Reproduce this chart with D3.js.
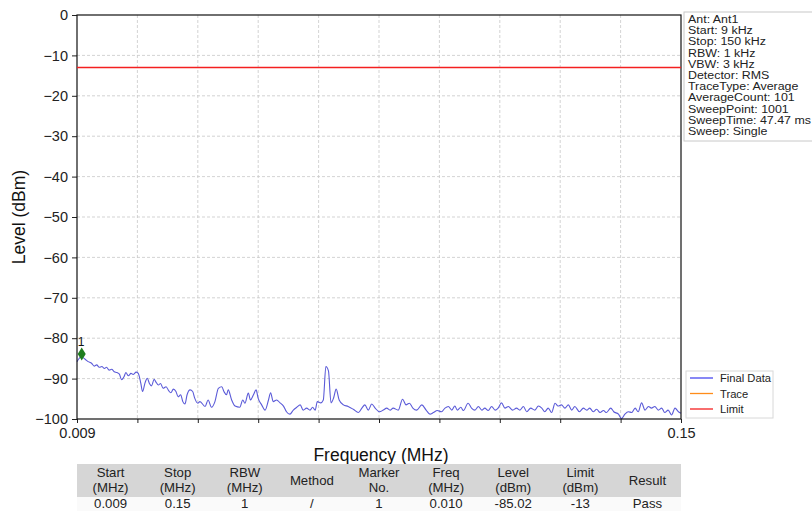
<!DOCTYPE html>
<html><head><meta charset="utf-8">
<script src="https://cdn.jsdelivr.net/npm/d3@7"></script>
<style>
body{margin:0;background:#fff;}
text{font-family:"Liberation Sans",Arial,Helvetica,sans-serif;}
</style>
</head><body>
<svg id="c" width="812" height="512"></svg>
<script>
// ---- data ----
const freqs = [0.0090,0.0100,0.0109,0.0116,0.0124,0.0130,0.0136,0.0142,0.0148,0.0154,0.0159,0.0165,0.0171,0.0177,0.0183,0.0189,0.0194,0.0200,0.0204,0.0210,0.0216,0.0221,0.0228,0.0233,0.0239,0.0243,0.0249,0.0254,0.0259,0.0264,0.0270,0.0274,0.0280,0.0285,0.0291,0.0298,0.0304,0.0309,0.0315,0.0321,0.0326,0.0332,0.0337,0.0342,0.0347,0.0354,0.0360,0.0365,0.0372,0.0377,0.0389,0.0396,0.0404,0.0412,0.0420,0.0428,0.0433,0.0439,0.0443,0.0451,0.0459,0.0470,0.0477,0.0482,0.0490,0.0495,0.0502,0.0508,0.0513,0.0521,0.0529,0.0537,0.0542,0.0548,0.0556,0.0564,0.0572,0.0579,0.0587,0.0595,0.0603,0.0611,0.0618,0.0626,0.0634,0.0640,0.0646,0.0651,0.0659,0.0665,0.0671,0.0677,0.0683,0.0689,0.0695,0.0702,0.0712,0.0723,0.0735,0.0747,0.0755,0.0762,0.0770,0.0778,0.0786,0.0796,0.0805,0.0813,0.0821,0.0828,0.0840,0.0850,0.0858,0.0866,0.0874,0.0883,0.0895,0.0905,0.0914,0.0922,0.0931,0.0941,0.0949,0.0957,0.0965,0.0972,0.0978,0.0986,0.0992,0.1003,0.1011,0.1019,0.1027,0.1035,0.1042,0.1050,0.1058,0.1066,0.1073,0.1081,0.1089,0.1097,0.1107,0.1116,0.1124,0.1132,0.1140,0.1149,0.1159,0.1167,0.1175,0.1182,0.1190,0.1198,0.1206,0.1213,0.1221,0.1229,0.1237,0.1245,0.1252,0.1263,0.1272,0.1280,0.1287,0.1295,0.1303,0.1311,0.1319,0.1326,0.1336,0.1343,0.1354,0.1361,0.1369,0.1377,0.1385,0.1393,0.1400,0.1408,0.1416,0.1424,0.1431,0.1439,0.1447,0.1455,0.1462,0.1470,0.1478,0.1486,0.1494,0.1500];
const levels = [-85.8,-84.6,-85.2,-85.8,-86.2,-86.9,-86.6,-87.2,-87.0,-87.5,-87.2,-87.9,-87.7,-88.3,-88.5,-88.9,-90.3,-89.5,-88.5,-89.3,-88.7,-89.0,-88.4,-88.7,-91.2,-93.2,-91.0,-89.9,-91.2,-91.8,-90.2,-90.8,-91.6,-91.2,-92.4,-92.0,-93.0,-93.5,-92.6,-93.2,-94.5,-94.0,-95.7,-96.3,-94.0,-92.8,-93.2,-94.9,-96.1,-95.7,-96.9,-95.3,-97.1,-95.7,-92.4,-92.0,-93.2,-94.0,-92.8,-95.3,-96.8,-97.1,-95.3,-96.1,-93.6,-95.3,-94.0,-92.8,-94.9,-96.5,-97.8,-95.3,-93.5,-95.7,-95.3,-96.0,-96.8,-98.2,-98.8,-97.8,-97.1,-96.5,-97.8,-97.3,-97.8,-97.1,-97.8,-95.7,-96.0,-95.3,-87.0,-88.1,-96.0,-94.8,-92.6,-95.3,-96.5,-96.9,-97.6,-98.4,-97.3,-96.5,-97.8,-96.3,-97.3,-98.2,-97.8,-97.3,-97.8,-97.3,-97.8,-95.1,-96.5,-96.1,-97.3,-97.8,-96.5,-97.8,-98.8,-98.4,-97.9,-98.2,-97.3,-96.9,-97.8,-96.8,-97.8,-97.1,-97.9,-96.1,-97.3,-97.8,-96.9,-97.8,-97.3,-97.9,-96.9,-97.8,-97.3,-96.0,-97.3,-96.9,-97.8,-97.3,-97.8,-96.9,-98.2,-97.3,-97.8,-96.8,-97.3,-98.2,-97.3,-98.4,-96.1,-96.8,-96.5,-97.3,-96.5,-97.8,-96.9,-98.2,-97.3,-97.8,-97.3,-98.2,-97.6,-98.4,-97.9,-98.4,-97.3,-98.2,-98.8,-99.9,-98.8,-98.2,-98.4,-97.3,-98.2,-96.0,-97.8,-96.9,-97.3,-96.9,-97.8,-97.3,-98.4,-97.8,-99.0,-97.3,-98.2,-98.6];
const limitLevel = -13;
const markerFreqs = [0.0101];
const markerLevels = [-83.9];
const markerNames = ["1"];
const xDomain = [0.009, 0.15];
const xTickLabels = ["0.009", "0.15"];
const yTicks = [0, -10, -20, -30, -40, -50, -60, -70, -80, -90, -100];
const infoLines = ["Ant: Ant1","Start: 9 kHz","Stop: 150 kHz","RBW: 1 kHz","VBW: 3 kHz","Detector: RMS","TraceType: Average","AverageCount: 101","SweepPoint: 1001","SweepTime: 47.47 ms","Sweep: Single"];
const legendNames = ["Final Data", "Trace", "Limit"];
const tableHeaders = [["Start","(MHz)"],["Stop","(MHz)"],["RBW","(MHz)"],["Method"],["Marker","No."],["Freq","(MHz)"],["Level","(dBm)"],["Limit","(dBm)"],["Result"]];
const tableRow = ["0.009","0.15","1","/","1","0.010","-85.02","-13","Pass"];

// ---- layout ----
const L = 77, T = 15, W = 604, H = 404;
const FONT = '"Liberation Sans",Arial,sans-serif';
const svg = d3.select("#c");
const x = d3.scaleLinear().domain(xDomain).range([L, L + W]);
const y = d3.scaleLinear().domain([-100, 0]).range([T + H, T]);
const xDiv = d3.range(0, 11).map(i => xDomain[0] + i * (xDomain[1] - xDomain[0]) / 10);

// grid
const grid = svg.append("g");
grid.selectAll("line.gx").data(xDiv.slice(1, -1)).join("line").attr("class", "gx")
  .attr("x1", d => x(d)).attr("x2", d => x(d)).attr("y1", T).attr("y2", T + H)
  .attr("stroke", "#c8c8c8").attr("stroke-width", 0.8).attr("stroke-dasharray", "3,2");
grid.selectAll("line.gy").data(yTicks.slice(1, -1)).join("line").attr("class", "gy")
  .attr("x1", L).attr("x2", L + W).attr("y1", d => y(d)).attr("y2", d => y(d))
  .attr("stroke", "#c8c8c8").attr("stroke-width", 0.8).attr("stroke-dasharray", "3,2");

// trace
const pts = freqs.map((f, i) => [f, levels[i]]);
svg.append("path").datum(pts)
  .attr("d", d3.line().x(d => x(d[0])).y(d => y(d[1])).curve(d3.curveMonotoneX))
  .attr("fill", "none").attr("stroke", "#5b5bd8").attr("stroke-width", 1.1);

// marker
markerFreqs.forEach((f, i) => {
  const cx = x(f), cy = y(markerLevels[i]);
  svg.append("path").attr("d", `M${cx},${cy-6.5}L${cx+4},${cy}L${cx},${cy+6.5}L${cx-4},${cy}Z`)
    .attr("fill", "#1e7d1e");
  svg.append("text").attr("x", cx - 0.5).attr("y", cy - 8).attr("text-anchor", "middle")
    .attr("font-size", 12).attr("fill", "#111").text(markerNames[i]);
});

// axes
const yAxis = d3.axisLeft(y).tickValues(yTicks).tickSize(5).tickPadding(4)
  .tickFormat(d => String(d).replace("-", "\u2212"));
const ya = svg.append("g").attr("transform", `translate(${L},0)`).call(yAxis);
ya.select(".domain").remove();
ya.selectAll("text").attr("font-size", 14.5).attr("fill", "#222").style("font-family", FONT);
ya.selectAll(".tick line").attr("stroke", "#222");

const xAxis = d3.axisBottom(x).tickValues(xDiv).tickSize(4).tickPadding(5)
  .tickFormat((d, i) => i === 0 ? xTickLabels[0] : (i === xDiv.length - 1 ? xTickLabels[1] : ""));
const xa = svg.append("g").attr("transform", `translate(0,${T + H})`).call(xAxis);
xa.select(".domain").remove();
xa.selectAll("text").attr("font-size", 14.5).attr("fill", "#222").style("font-family", FONT);
xa.selectAll(".tick line").attr("stroke", "#222");

// frame
svg.append("rect").attr("x", L).attr("y", T).attr("width", W).attr("height", H)
  .attr("fill", "none").attr("stroke", "#111").attr("stroke-width", 1.2);

// limit line
svg.append("line").attr("class", "limit")
  .attr("x1", x(xDomain[0])).attr("x2", x(xDomain[1]))
  .attr("y1", y(limitLevel)).attr("y2", y(limitLevel))
  .style("stroke", "#f42020").style("stroke-width", "1.4px");

// axis titles
svg.append("text").attr("x", L + W / 2 + 2).attr("y", 461).attr("text-anchor", "middle")
  .attr("font-size", 17.5).attr("fill", "#111").text("Frequency (MHz)");
svg.append("text").attr("transform", `translate(25,${T + H / 2}) rotate(-90)`)
  .attr("text-anchor", "middle").attr("font-size", 17.5).attr("fill", "#111").text("Level (dBm)");

// info box
svg.append("rect").attr("x", 684).attr("y", 12).attr("width", 140).attr("height", 129)
  .attr("fill", "#fff").attr("stroke", "#c8c8c8");
svg.append("g").attr("transform", "translate(688,0) scale(1.13,1)")
  .selectAll("text").data(infoLines).join("text")
  .attr("x", 0).attr("y", (d, i) => 23 + i * 11.2).attr("font-size", 11).attr("fill", "#222").text(d => d);

// legend
const legColors = ["#4848f0", "#ff8c1a", "#f42020"];
svg.append("rect").attr("x", 686).attr("y", 371).attr("width", 87).attr("height", 47)
  .attr("fill", "#fff").attr("stroke", "#d8d8d8");
legendNames.forEach((n, i) => {
  const ly = 378 + i * 15.5;
  svg.append("line").attr("x1", 690).attr("x2", 713).attr("y1", ly).attr("y2", ly)
    .style("stroke", legColors[i]).style("stroke-width", "1.3px");
  svg.append("text").attr("x", 720).attr("y", ly + 4).attr("font-size", 11.2).attr("fill", "#222").text(n);
});

// table
const colW = W / tableHeaders.length;
svg.append("rect").attr("x", L).attr("y", 464).attr("width", W).attr("height", 33).attr("fill", "#d6d6d6");
svg.append("rect").attr("x", L).attr("y", 497).attr("width", W).attr("height", 14).attr("fill", "#fafafa");
tableHeaders.forEach((h, i) => {
  const cx = L + colW * (i + 0.5);
  if (h.length === 1) {
    svg.append("text").attr("x", cx).attr("y", 485).attr("text-anchor", "middle")
      .attr("font-size", 13.2).attr("fill", "#222").text(h[0]);
  } else {
    h.forEach((t, j) => svg.append("text").attr("x", cx).attr("y", 477 + j * 14.5)
      .attr("text-anchor", "middle").attr("font-size", 13.2).attr("fill", "#222").text(t));
  }
  svg.append("text").attr("x", cx).attr("y", 508).attr("text-anchor", "middle")
    .attr("font-size", 13.2).attr("fill", "#222").text(tableRow[i]);
});
</script>
</body></html>
